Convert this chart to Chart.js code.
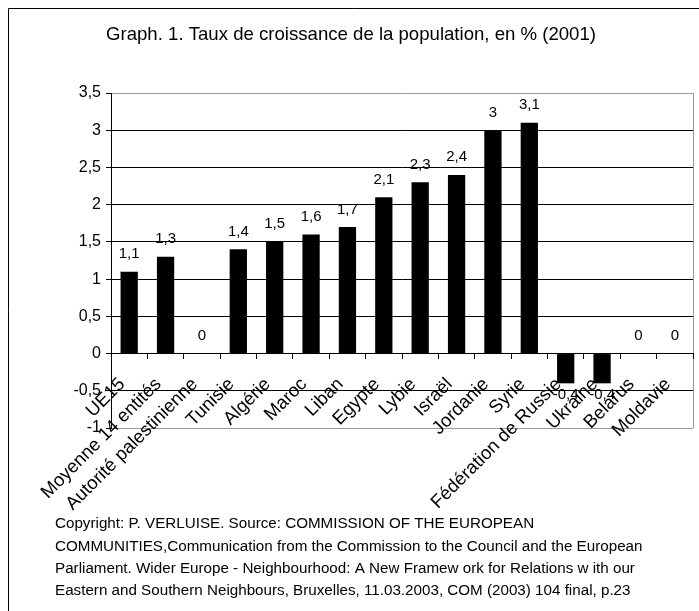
<!DOCTYPE html>
<html><head><meta charset="utf-8">
<script src="https://cdn.jsdelivr.net/npm/chart.js@4"></script>
<style>html,body{margin:0;padding:0;background:#fff;} canvas{display:block}</style>
</head><body>
<canvas id="c" width="699" height="611"></canvas>
<script>
const categories = ["UE15","Moyenne 14 entités","Autorité palestinienne","Tunisie","Algérie","Maroc","Liban","Egypte","Lybie","Israël","Jordanie","Syrie","Fédération de Russie","Ukraine","Belarus","Moldavie"];
const values = [1.1, 1.3, 0, 1.4, 1.5, 1.6, 1.7, 2.1, 2.3, 2.4, 3, 3.1, -0.4, -0.4, 0, 0];
const yTicks = [-1, -0.5, 0, 0.5, 1, 1.5, 2, 2.5, 3, 3.5];
const titleText = "Graph. 1. Taux de croissance de la population, en % (2001)";
const footerLines = [
  "Copyright: P. VERLUISE. Source: COMMISSION OF THE EUROPEAN",
  "COMMUNITIES,Communication from the Commission to the Council and the European",
  "Parliament. Wider Europe - Neighbourhood: A New Framew ork for Relations w ith our",
  "Eastern and Southern Neighbours, Bruxelles, 11.03.2003, COM (2003) 104 final, p.23"
];

const FAMILY = '"Liberation Sans", Arial, sans-serif';
const fmt = v => String(v).replace('.', ',');

const decor = {
  id: 'decor',
  beforeDraw(chart) {
    const {ctx, chartArea: a} = chart;
    ctx.save();
    ctx.fillStyle = '#fff';
    ctx.fillRect(0, 0, chart.width, chart.height);
    ctx.strokeStyle = '#999';
    ctx.lineWidth = 1;
    ctx.beginPath();
    ctx.moveTo(Math.round(a.right) + 0.5, a.top);
    ctx.lineTo(Math.round(a.right) + 0.5, a.bottom);
    ctx.stroke();
    ctx.restore();
  },
  afterDraw(chart) {
    const {ctx} = chart;
    ctx.save();
    ctx.strokeStyle = '#000';
    ctx.lineWidth = 1;
    ctx.beginPath();
    ctx.moveTo(8.5, 800); ctx.lineTo(8.5, 8.5); ctx.lineTo(800, 8.5);
    ctx.stroke();
    ctx.fillStyle = '#000';
    ctx.font = '18.6px ' + FAMILY;
    ctx.textAlign = 'center';
    ctx.textBaseline = 'middle';
    ctx.fillText(titleText, 351, 35);
    ctx.font = '15.2px ' + FAMILY;
    ctx.textAlign = 'left';
    footerLines.forEach((t, i) => ctx.fillText(t, 55, 524 + i * 22.4));
    // value labels
    const meta = chart.getDatasetMeta(0);
    ctx.font = '15px ' + FAMILY;
    ctx.textAlign = 'center';
    ctx.textBaseline = 'alphabetic';
    meta.data.forEach((bar, i) => {
      const v = values[i];
      if (v >= 0) ctx.fillText(fmt(v), bar.x, bar.y - 13.5);
      else ctx.fillText(fmt(v), bar.x, bar.y + 15.5);
    });
    ctx.restore();
  }
};

new Chart(document.getElementById('c'), {
  type: 'bar',
  data: {
    labels: categories,
    datasets: [{
      data: values,
      backgroundColor: '#000',
      borderWidth: 0,
      barPercentage: 0.475,
      categoryPercentage: 1
    }]
  },
  options: {
    responsive: false,
    animation: false,
    layout: { padding: { top: 93, left: 0, right: 6, bottom: 183 } },
    plugins: { legend: { display: false }, title: { display: false }, tooltip: { enabled: false } },
    scales: {
      x: {
        position: { y: 0 },
        offset: true,
        afterFit: s => { s.paddingLeft = 0; s.paddingRight = 0; },
        grid: { offset: true, drawOnChartArea: false, tickLength: 5, tickColor: '#000', tickWidth: 1 },
        border: { display: true, color: '#000', width: 1 },
        ticks: {
          autoSkip: false, maxRotation: 45, minRotation: 45, color: '#000',
          font: { family: FAMILY, size: 18.5 }, padding: 15, labelOffset: -7
        }
      },
      y: {
        min: -1, max: 3.5,
        afterFit: s => { s.width = 111; },
        afterBuildTicks: s => { s.ticks = yTicks.map(v => ({ value: v })); },
        grid: {
          color: c => (c.tick && (c.tick.value === 3.5 || c.tick.value === -1)) ? '#999' : '#000',
          tickColor: '#000', tickLength: 5, lineWidth: 1
        },
        border: { display: true, color: '#000', width: 1 },
        ticks: { callback: fmt, color: '#000', font: { family: FAMILY, size: 16 }, padding: 5 }
      }
    }
  },
  plugins: [decor]
});
</script>
</body></html>
